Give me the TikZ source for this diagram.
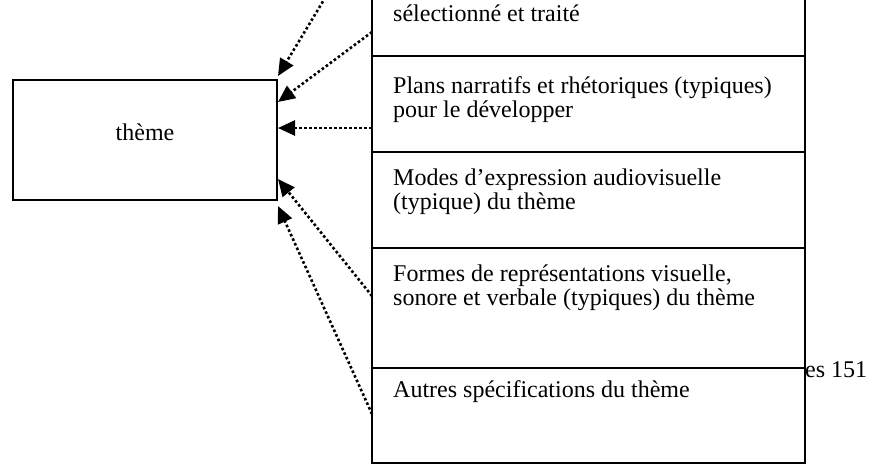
\documentclass[tikz,border=0pt]{standalone}
\usepackage{fontspec}
\setmainfont{Liberation Serif}
\usetikzlibrary{arrows.meta}
\begin{document}
\begin{tikzpicture}[x=1pt,y=-1pt,
  box/.style={draw, line width=2.2pt, rectangle, inner sep=0pt, minimum width=433pt},
  txt/.style={anchor=base west, inner sep=0pt, align=left, font=\fontsize{24}{23.5}\selectfont},
  link/.style={line width=2.6pt, dash pattern=on 2.6pt off 2.4pt, -{Triangle[length=17pt,width=15pt]}}
]
\useasboundingbox (0,0) rectangle (874,467);
\clip (0,0) rectangle (874,467);

% theme box
\node[draw, line width=2.2pt, inner sep=0pt, minimum width=264pt, minimum height=120pt,
      text height=8pt, text depth=8pt, font=\fontsize{24}{24}\selectfont] (theme) at (145,140) {thème};

% stacked boxes
\node[box, minimum height=96pt] (b1) at (588.5,8) {};
\node[box, minimum height=96pt] (b2) at (588.5,104) {};
\node[box, minimum height=96pt] (b3) at (588.5,200) {};
\node[box, minimum height=120pt] (b4) at (588.5,308) {};
\node[box, minimum height=95pt] (b5) at (588.5,415.5) {};

% texts (base anchor = last line's baseline)
\node[txt] (t1) at (393,21) {sélectionné et traité};
\node[txt] (t2) at (393,117) {Plans narratifs et rhétoriques (typiques)\\pour le développer};
\node[txt] (t3) at (393,209) {Modes d’expression audiovisuelle\\(typique) du thème};
\node[txt] (t4) at (393,305) {Formes de représentations visuelle,\\sonore et verbale (typiques) du thème};
\node[txt] (t5) at (393,397) {Autres spécifications du thème};
\node[txt] (pg) at (805,377) {es 151};

% connector ends
\coordinate (s1) at (372,-80);
\coordinate (s2) at (372,32);
\coordinate (s3) at (372,128);
\coordinate (s4) at (372,296);
\coordinate (s5) at (372,414);
\coordinate (e1) at (278,76);
\coordinate (e2) at (278,102);
\coordinate (e3) at (278,128);
\coordinate (e4) at (278,179);
\coordinate (e5) at (278,206);

\draw[link] (s1) -- (e1);
\draw[link] (s2) -- (e2);
\draw[link] (s3) -- (e3);
\draw[link] (s4) -- (e4);
\draw[link] (s5) -- (e5);
\end{tikzpicture}
\end{document}
